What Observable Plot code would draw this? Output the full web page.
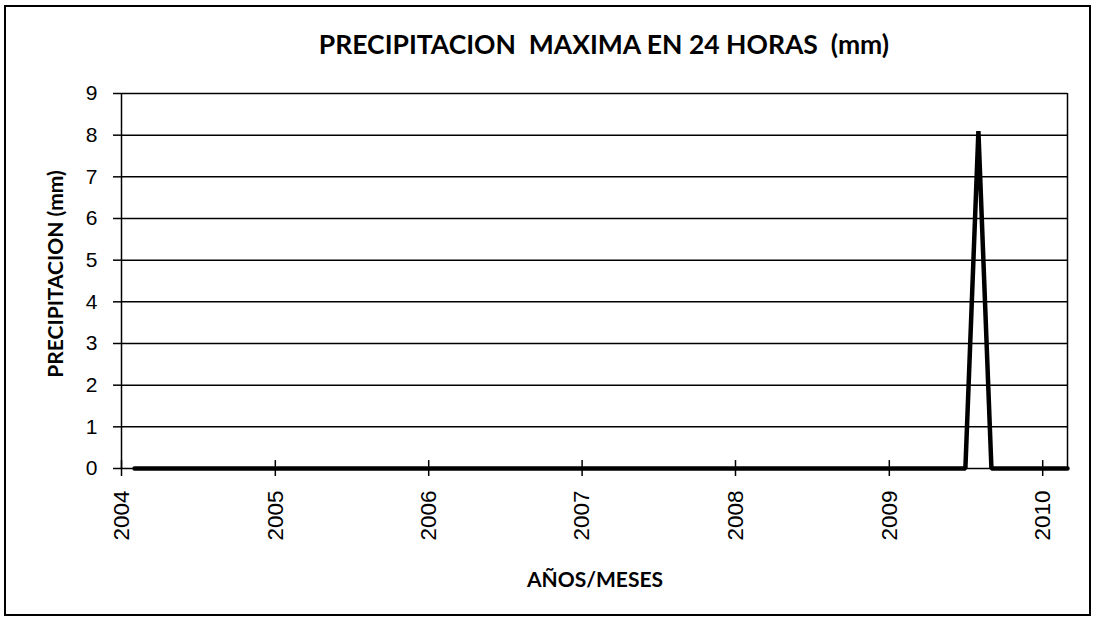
<!DOCTYPE html>
<html>
<head>
<meta charset="utf-8">
<script src="https://cdn.jsdelivr.net/npm/d3@7"></script>
<script src="https://cdn.jsdelivr.net/npm/@observablehq/plot@0.6"></script>
<style>
  html, body { margin: 0; padding: 0; background: #fff; }
  #wrap { position: relative; width: 1097px; height: 623px; overflow: hidden; }
  #border { position: absolute; left: 4px; top: 5px; width: 1087px; height: 611px; border: 2px solid #000; box-sizing: border-box; }
  #title { position: absolute; left: 604px; top: 44px; transform: translate(-50%, -50%);
           white-space: nowrap; font-family: Lato, "Open Sans", sans-serif; font-weight: bold; font-size: 26.5px; color: #000; }
  #ylab { position: absolute; left: 54px; top: 274px; transform: translate(-50%, -50%) rotate(-90deg);
          white-space: nowrap; font-family: Lato, "Open Sans", sans-serif; font-weight: bold; font-size: 21px; }
  #xlab { position: absolute; left: 595px; top: 578px; transform: translate(-50%, -50%);
          white-space: nowrap; font-family: Lato, "Open Sans", sans-serif; font-weight: bold; font-size: 21px; }
  svg { position: absolute; left: 0; top: 0; }
</style>
</head>
<body>
<div id="wrap">
  <div id="chart"></div>
  <div id="border"></div>
  <div id="title">PRECIPITACION&nbsp;&nbsp;MAXIMA EN 24 HORAS&nbsp;&nbsp;(mm)</div>
  <div id="ylab">PRECIPITACION (mm)</div>
  <div id="xlab">AÑOS/MESES</div>
</div>
<script>
// Monthly maximum 24h precipitation (mm), Feb 2004 – Mar 2010
const startYear = 2004, startMonth = 1; // 0-based month index: Feb
const values = [
  // 2004 Feb–Dec
  0,0,0,0,0,0,0,0,0,0,0,
  // 2005
  0,0,0,0,0,0,0,0,0,0,0,0,
  // 2006
  0,0,0,0,0,0,0,0,0,0,0,0,
  // 2007
  0,0,0,0,0,0,0,0,0,0,0,0,
  // 2008
  0,0,0,0,0,0,0,0,0,0,0,0,
  // 2009
  0,0,0,0,0,0,0,8.1,0,0,0,0,
  // 2010 Jan–Mar
  0,0,0
];
const yTicks = [0,1,2,3,4,5,6,7,8,9];
const xTickYears = [2004,2005,2006,2007,2008,2009,2010];

const data = values.map((v, i) => ({date: new Date(Date.UTC(startYear, startMonth + i, 1)), value: v}));
const xTicks = xTickYears.map(y => new Date(Date.UTC(y, 0, 1)));
const xStart = new Date(Date.UTC(2004, 0, 1));
const xEnd = new Date(Date.UTC(2010, 2, 1));

const chart = Plot.plot({
  width: 1097,
  height: 623,
  marginLeft: 121,
  marginRight: 30,
  marginTop: 93,
  marginBottom: 155,
  style: {background: "transparent", color: "#000", overflow: "visible"},
  x: {type: "utc", domain: [xStart, xEnd], ticks: xTicks, label: null},
  y: {domain: [0, 9], ticks: yTicks, label: null},
  marks: [
    Plot.ruleY(yTicks, {stroke: "#000", strokeWidth: 1.5}),
    Plot.ruleX([xStart], {stroke: "#000", strokeWidth: 1.5}),
    Plot.ruleX([xEnd], {stroke: "#000", strokeWidth: 1.5}),
    Plot.axisY({ticks: yTicks, tickSize: 8, tickPadding: 16, tickFormat: d => String(d), fontSize: 21,
                fontFamily: "Liberation Sans, Arial, sans-serif", stroke: "#000", strokeWidth: 1.5, label: null}),
    Plot.ruleX(xTicks, {x: d => d, y1: 0, y2: 0.19, stroke: "#000", strokeWidth: 1.5}),
    Plot.axisX({ticks: xTicks, tickSize: 8, tickPadding: 14, tickRotate: -90, tickFormat: d => String(d.getUTCFullYear()),
                fontSize: 22.5, fontFamily: "Liberation Sans, Arial, sans-serif", textAnchor: "end",
                stroke: "#000", strokeWidth: 1.5, label: null}),
    Plot.line(data, {x: "date", y: "value", stroke: "#000", strokeWidth: 4.5, strokeLinejoin: "miter"})
  ]
});
document.getElementById("chart").appendChild(chart);
</script>
</body>
</html>
